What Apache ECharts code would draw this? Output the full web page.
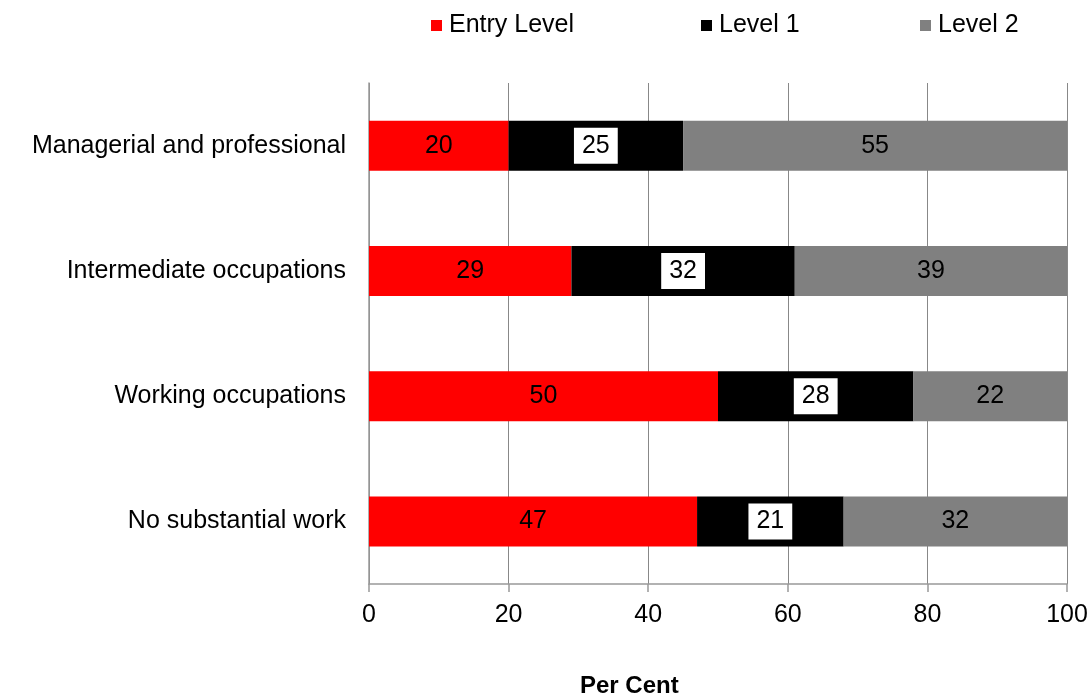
<!DOCTYPE html>
<html>
<head>
<meta charset="utf-8">
<script src="https://cdn.jsdelivr.net/npm/echarts@6/dist/echarts.min.js"></script>
<style>html,body{margin:0;padding:0;background:#fff}#c{width:1091px;height:696px}</style>
</head>
<body>
<div id="c"></div>
<script>
const categories = ["Managerial and professional", "Intermediate occupations", "Working occupations", "No substantial work"];
const entryLevel = [20, 29, 50, 47];
const level1 = [25, 32, 28, 21];
const level2 = [55, 39, 22, 32];
const xTicks = [0, 20, 40, 60, 80, 100];
const seriesNames = ['Entry Level', 'Level 1', 'Level 2'];

const font = "'Liberation Sans', Arial, sans-serif";
const FS = 25;
const chart = echarts.init(document.getElementById('c'));
const labelBase = {show: true, position: 'inside', color: '#000', fontFamily: font, fontSize: FS};
const legendLefts = [426, 696, 915];
chart.setOption({
  animation: false,
  textStyle: {fontFamily: font},
  legend: seriesNames.map((n, i) => ({
    top: 8, left: legendLefts[i], itemWidth: 11, itemHeight: 11,
    icon: 'rect',
    textStyle: {fontSize: FS, color: '#000', fontFamily: font, padding: [0, 0, 0, 2]},
    data: [n]
  })),
  graphic: [{
    type: 'text', left: 580, top: 674,
    style: {text: 'Per Cent', fontSize: 24, fontWeight: 'bold', fill: '#000', fontFamily: font}
  }],
  grid: {left: 369, right: 24, top: 83, bottom: 112, containLabel: false},
  xAxis: {
    type: 'value', min: 0, max: 100, interval: 20,
    axisLine: {show: true, lineStyle: {color: '#999', width: 1.5}},
    axisTick: {show: true, length: 8, lineStyle: {color: '#999', width: 1.5}},
    axisLabel: {fontSize: FS, color: '#000', margin: 19, fontFamily: font,
      formatter: v => xTicks.includes(v) ? String(v) : ''},
    splitLine: {show: true, lineStyle: {color: '#888', width: 1}}
  },
  yAxis: {
    type: 'category', data: categories, inverse: true,
    axisLine: {show: true, lineStyle: {color: '#999', width: 1.5}},
    axisTick: {show: false},
    axisLabel: {fontSize: FS, color: '#000', margin: 23, fontFamily: font}
  },
  series: [
    {name: seriesNames[0], type: 'bar', stack: 'a', data: entryLevel, barWidth: 50,
      itemStyle: {color: '#ff0000'}, label: labelBase},
    {name: seriesNames[1], type: 'bar', stack: 'a', data: level1, barWidth: 50,
      itemStyle: {color: '#000000'},
      label: Object.assign({}, labelBase, {backgroundColor: '#fff', padding: [6, 8, 5, 8]})},
    {name: seriesNames[2], type: 'bar', stack: 'a', data: level2, barWidth: 50,
      itemStyle: {color: '#808080'}, label: labelBase}
  ]
});
</script>
</body>
</html>
